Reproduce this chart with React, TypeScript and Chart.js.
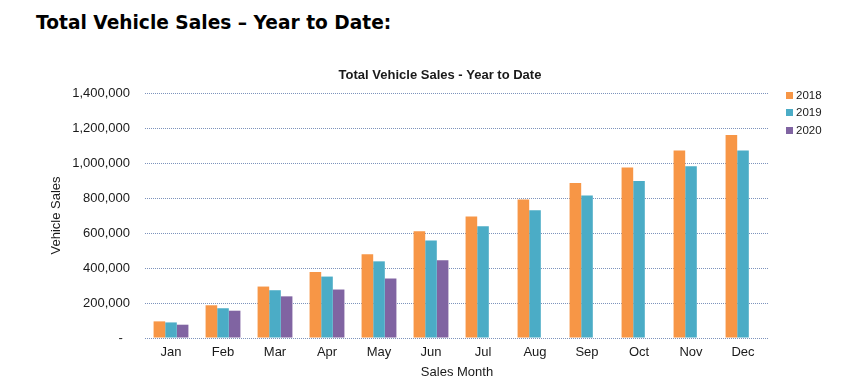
import React, { useEffect, useRef } from "react";
import { Chart, registerables } from "chart.js";

Chart.register(...registerables);

const pageTitle = "Total Vehicle Sales \u2013 Year to Date:";
const chartTitle = "Total Vehicle Sales - Year to Date";
const months = ["Jan", "Feb", "Mar", "Apr", "May", "Jun", "Jul", "Aug", "Sep", "Oct", "Nov", "Dec"];
const seriesLabels = ["2018", "2019", "2020"];
const sales2018 = [95000, 187000, 294000, 377000, 478000, 610000, 695000, 791000, 886000, 975000, 1071000, 1160000];
const sales2019 = [89000, 170000, 273000, 351000, 438000, 557000, 638000, 730000, 814000, 897000, 981000, 1071000];
const sales2020 = [76000, 156000, 238000, 277000, 340000, 444000, null, null, null, null, null, null];
const seriesColors = ["#F79646", "#4BACC6", "#8064A2"];
const yMax = 1400000;
const yStep = 200000;
const yTitle = "Vehicle Sales";
const xTitle = "Sales Month";

const FONT = "'Liberation Sans', Arial, sans-serif";
const TEXT = "#1a1a1a";

const customPlugin = {
  id: "customDecor",
  afterDraw(chart: any) {
    const ctx = chart.ctx;
    const area = chart.chartArea;
    ctx.save();
    // chart title
    ctx.font = `bold 13px ${FONT}`;
    ctx.fillStyle = TEXT;
    ctx.textAlign = "center";
    ctx.textBaseline = "middle";
    ctx.fillText(chartTitle, 440, area.top - 18);
    // legend
    ctx.font = `11.5px ${FONT}`;
    ctx.textAlign = "left";
    chart.data.datasets.forEach((ds: any, i: number) => {
      const cy = area.top + 2 + i * 17.5;
      const bx = area.right + 17;
      ctx.fillStyle = ds.backgroundColor;
      ctx.fillRect(bx, Math.round(cy - 3.5), 7, 7);
      ctx.fillStyle = TEXT;
      ctx.fillText(ds.label, bx + 10, cy + 0.5);
    });
    ctx.restore();
  },
};

export default function App() {
  const ref = useRef<HTMLCanvasElement | null>(null);
  useEffect(() => {
    if (!ref.current) return;
    const gridColor = "#7D93BC";
    const chart = new Chart(ref.current, {
      type: "bar",
      data: {
        labels: months,
        datasets: [sales2018, sales2019, sales2020].map((d, i) => ({
          label: seriesLabels[i],
          data: d,
          backgroundColor: seriesColors[i],
          borderWidth: 0,
          categoryPercentage: 0.67,
          barPercentage: 1.0,
        })),
      },
      options: {
        animation: false,
        responsive: false,
        maintainAspectRatio: false,
        devicePixelRatio: 1,
        layout: { padding: { top: 93, left: 45, right: 93, bottom: 7 } },
        plugins: {
          legend: { display: false },
          title: { display: false },
          tooltip: { enabled: false },
        },
        scales: {
          x: {
            grid: { display: false, drawTicks: false },
            border: { display: false },
            ticks: { color: TEXT, font: { family: FONT, size: 13 }, padding: 7, maxRotation: 0 },
            title: { display: true, text: xTitle, color: TEXT, font: { family: FONT, size: 13 }, padding: { top: 4, bottom: 4 } },
            afterFit: (s: any) => { s.height = 46; },
          },
          y: {
            min: 0,
            max: yMax,
            grid: { color: gridColor, lineWidth: 1, drawTicks: false },
            border: { display: false, dash: [1, 1] },
            ticks: {
              stepSize: yStep,
              color: TEXT,
              font: { family: FONT, size: 13 },
              padding: 15,
              callback: (v: any) => (Number(v) === 0 ? "-  " : Number(v).toLocaleString("en-US")),
            },
            title: { display: true, text: yTitle, color: TEXT, font: { family: FONT, size: 13 }, padding: { top: 4, bottom: 4 } },
            afterFit: (s: any) => { s.width = 100; },
          },
        },
      },
      plugins: [customPlugin],
    } as any);
    return () => chart.destroy();
  }, []);

  return (
    <div style={{ position: "fixed", left: 0, top: 0, width: 862, height: 391, background: "#fff" }}>
      <div
        style={{
          position: "absolute",
          left: 36,
          top: 14,
          fontFamily: "'DejaVu Sans', Verdana, sans-serif",
          fontWeight: "bold",
          fontSize: 18.6,
          lineHeight: "18px",
          color: "#000",
          whiteSpace: "nowrap",
        }}
      >
        {pageTitle}
      </div>
      <canvas ref={ref} width={862} height={391} style={{ position: "absolute", left: 0, top: 0, width: 862, height: 391 }} />
    </div>
  );
}
